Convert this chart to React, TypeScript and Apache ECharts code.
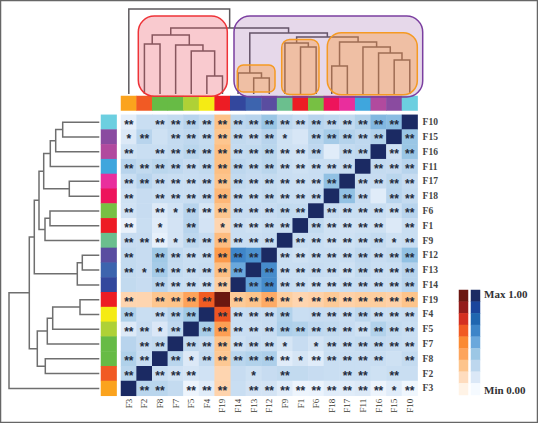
import React, { useEffect, useRef } from "react";
import * as echarts from "echarts";

const columns = ["F3","F2","F8","F7","F5","F4","F19","F14","F13","F12","F9","F1","F6","F18","F17","F11","F16","F15","F10"];
const rows = ["F10","F15","F16","F11","F17","F18","F6","F1","F9","F12","F13","F14","F19","F4","F5","F7","F8","F2","F3"];

const leafColors = ["#fba31d","#f15a24","#67bb45","#67bb45","#afd136","#f5eb14","#ed1c24","#33479d","#3d64ae","#5a4da0","#6bbf8e","#ed1c24","#77c043","#ed145b","#e92e9d","#3fa6dd","#b14a9e","#8a4ba0","#6ccfe0"];

const values: number[][] = [
  [.08,.2,.2,.22,.27,.22,.26,.25,.27,.38,.25,.21,.27,.24,.23,.3,.44,.42,1],
  [.12,.27,.18,.22,.24,.22,.24,.23,.21,.27,.18,.14,.26,.34,.28,.24,.29,1,.38],
  [.18,.2,.2,.22,.26,.23,.27,.22,.23,.26,.18,.17,.24,.1,.22,.24,1,.18,.38],
  [.27,.23,.26,.24,.21,.23,.27,.25,.22,.26,.2,.18,.2,.2,.21,1,.22,.21,.27],
  [.2,.27,.21,.2,.2,.21,.25,.23,.21,.22,.2,.19,.2,.4,1,.21,.21,.26,.21],
  [.18,.21,.2,.2,.2,.21,.3,.21,.2,.23,.2,.2,.21,1,.4,.21,.1,.27,.22],
  [.17,.21,.12,.17,.27,.15,.24,.21,.21,.21,.23,.22,1,.21,.2,.2,.2,.18,.27],
  [.06,.2,.1,.16,.27,.16,.16,.2,.18,.2,.2,1,.23,.18,.17,.18,.18,.12,.2],
  [.21,.21,.07,.16,.25,.21,.28,.2,.2,.21,1,.2,.2,.18,.18,.2,.22,.18,.2],
  [.23,.21,.36,.23,.2,.2,.42,.62,.58,1,.2,.18,.2,.2,.2,.24,.21,.23,.4],
  [.23,.21,.34,.22,.2,.21,.27,.5,1,.6,.2,.2,.21,.2,.18,.23,.2,.2,.27],
  [.23,.21,.27,.2,.2,.18,.2,1,.52,.6,.21,.2,.18,.18,.2,.21,.2,.2,.27],
  [.16,.16,.24,.25,.38,.62,1,.22,.25,.35,.2,.16,.18,.22,.18,.2,.2,.18,.25],
  [.3,.2,.21,.27,.36,1,.64,.2,.21,.21,.29,.2,.21,.21,.2,.25,.2,.2,.21],
  [.12,.21,.13,.24,1,.33,.4,.2,.2,.21,.31,.29,.24,.23,.21,.18,.29,.22,.2],
  [.27,.21,.23,1,.23,.21,.25,.18,.21,.2,.15,.21,.16,.2,.2,.22,.22,.21,.2],
  [.3,.2,1,.26,.12,.22,.23,.26,.29,.31,.1,.15,.1,.2,.2,.2,.2,.18,.22],
  [.26,1,.2,.17,.15,.17,.16,.21,.18,.21,.23,.23,.21,.2,.2,.2,.18,.2,.2],
  [1,.26,.26,.22,.04,.1,.17,.2,.16,.16,.1,.04,.05,.1,.1,.12,.04,.1,.03],
];

const stars = [
  "2022222222222222220",
  "1202222222102222202",
  "2022222222222022022",
  "2222222222222220222",
  "2222222222222202222",
  "2022222222222022022",
  "2021222222220222222",
  "2010201222202222202",
  "2221222222022222212",
  "2022222220222222222",
  "2122222202222222222",
  "0022222022222222222",
  "2022220222212222222",
  "2022202222202222222",
  "2212022222222222222",
  "0220222222101222222",
  "2202122222212222202",
  "2022200010200022020",
  "0220222022222222212",
];

const topMerges: [string,string,number][] = [
  ["F4","F19",18],["F5","m0",43],["F7","m1",49],["F2","F8",50],["m3","m2",59],
  ["F13","F12",16],["F14","m5",21],["F1","F6",47],["F9","m7",51],["F18","F17",28],
  ["F15","F10",34],["F16","m10",41],["F11","m11",47],["m9","m12",52],["m8","m13",57],
  ["m6","m14",61],["m4","m15",66],["F3","m16",85],
];
const leftMerges: [string,string,number][] = [
  ["F10","F15",36.6],["m0","F16",43.6],["m1","F11",49],["F17","F18",30],["m2","m3",55.6],
  ["F6","F1",49.3],["m5","F9",54.3],["m4","m6",60.3],["F12","F13",17],["m8","F14",22],
  ["m7","m9",65],["F19","F4",19.3],["m11","F5",46.6],["m12","F7",52],["F8","F2",54],
  ["m13","m14",62],["m10","m15",70],["m16","F3",90.3],
];

const bluePalette = ["#f5faff","#dbe8f7","#bdd7ee","#9cc7e5","#6aa8dc","#3d85c8","#1f66b0","#1a459c","#1b2a63"];
const orangePalette = ["#fff3e6","#fedcbe","#fdc48b","#fda45c","#fb8a33","#f15a22","#d42f20","#941c1a","#6b1710"];
const legendLevels = [8,7,6,5,4,3,2,1,0];
const maxLabel = "Max 1.00";
const minLabel = "Min 0.00";

const SERIF = "'Liberation Serif', serif";
const HEAT = { left: 121, top: 114.8, width: 296.6, height: 281 };

function segments(merges: [string,string,number][], leaves: string[]) {
  const pos: Record<string,[number,number]> = {};
  leaves.forEach((n, i) => { pos[n] = [i, 0]; });
  return merges.map(([a, b, h], i) => {
    const pa = pos[a], pb = pos[b];
    pos["m" + i] = [(pa[0] + pb[0]) / 2, h];
    return [pa[0], pa[1], pb[0], pb[1], h];
  });
}

function hiddenAxis(extra: any) {
  return { show: false, axisLine:{show:false}, axisTick:{show:false}, axisLabel:{show:false}, splitLine:{show:false}, ...extra };
}

export default function App() {
  const ref = useRef<HTMLDivElement>(null);
  useEffect(() => {
    const chart = echarts.init(ref.current!, undefined, { renderer: "svg" });
    const blue: any[] = [], orange: any[] = [];
    values.forEach((row, r) => row.forEach((v, c) => {
      const item = { value: [c, r, v], star: "*".repeat(+stars[r][c]) };
      (columns[c] === "F19" || rows[r] === "F19" ? orange : blue).push(item);
    }));
    const heatLabel = {
      show: true,
      formatter: (p: any) => p.data.star,
      fontFamily: "'Liberation Sans', sans-serif",
      fontWeight: "bold",
      fontSize: 12,
      color: "#232b3c",
      offset: [0, 2.5],
    };
    const topRender = (color: string) => (_: any, api: any) => {
      const [xa, ha, xb, hb, h] = [api.value(0), api.value(1), api.value(2), api.value(3), api.value(4)];
      const pts = [api.coord([xa, ha]), api.coord([xa, h]), api.coord([xb, h]), api.coord([xb, hb])];
      return { type: "polyline", shape: { points: pts }, style: { stroke: color, fill: "none", lineWidth: 1.5 } };
    };
    const leftRender = (color: string) => (_: any, api: any) => {
      const [ya, ha, yb, hb, h] = [api.value(0), api.value(1), api.value(2), api.value(3), api.value(4)];
      const pts = [api.coord([ha, ya]), api.coord([h, ya]), api.coord([h, yb]), api.coord([hb, yb])];
      return { type: "polyline", shape: { points: pts }, style: { stroke: color, fill: "none", lineWidth: 1.5 } };
    };
    const round = (x: number, y: number, w: number, h: number, r: number, stroke: string, fill: string, z: number) => ({
      type: "rect", z, shape: { x, y, width: w, height: h, r },
      style: { stroke, fill, lineWidth: 1.5 },
    });
    const option: any = {
      animation: false,
      backgroundColor: "#ffffff",
      grid: [
        { ...HEAT },
        { left: 121, top: 96, width: 296.6, height: 14.5 },
        { left: 101, top: 114.8, width: 15.6, height: 281 },
        { left: 121, top: 0, width: 296.6, height: 94 },
        { left: 0, top: 114.8, width: 99.3, height: 281 },
        { left: 459, top: 290, width: 9, height: 105 },
        { left: 471, top: 290, width: 9, height: 105 },
      ],
      xAxis: [
        { gridIndex: 0, type: "category", data: columns, position: "bottom", axisLine:{show:false}, axisTick:{show:false}, splitLine:{show:false},
          axisLabel:{ rotate: 90, interval: 0, margin: 3, fontFamily: SERIF, fontSize: 9, color: "#3a3a32" } },
        hiddenAxis({ gridIndex: 1, type: "category", data: columns }),
        hiddenAxis({ gridIndex: 2, type: "category", data: ["c"] }),
        hiddenAxis({ gridIndex: 3, type: "value", min: -0.5, max: 18.5 }),
        hiddenAxis({ gridIndex: 4, type: "value", min: 0, max: 99.3, inverse: true }),
        hiddenAxis({ gridIndex: 5, type: "category", data: ["o"] }),
        hiddenAxis({ gridIndex: 6, type: "category", data: ["b"] }),
      ],
      yAxis: [
        { gridIndex: 0, type: "category", data: rows, inverse: true, position: "right", axisLine:{show:false}, axisTick:{show:false}, splitLine:{show:false},
          axisLabel:{ interval: 0, margin: 5, fontFamily: SERIF, fontSize: 9.5, fontWeight: "bold", color: "#444" } },
        hiddenAxis({ gridIndex: 1, type: "category", data: ["c"] }),
        hiddenAxis({ gridIndex: 2, type: "category", data: rows, inverse: true }),
        hiddenAxis({ gridIndex: 3, type: "value", min: 0, max: 94 }),
        hiddenAxis({ gridIndex: 4, type: "value", min: -0.5, max: 18.5, inverse: true }),
        hiddenAxis({ gridIndex: 5, type: "category", data: legendLevels.map(String), inverse: true }),
        hiddenAxis({ gridIndex: 6, type: "category", data: legendLevels.map(String), inverse: true }),
      ],
      visualMap: [
        { type: "continuous", show: false, seriesIndex: 0, dimension: 2, min: 0, max: 1, inRange: { color: bluePalette } },
        { type: "continuous", show: false, seriesIndex: 1, dimension: 2, min: 0, max: 1, inRange: { color: orangePalette } },
        { type: "continuous", show: false, seriesIndex: [2, 3], dimension: 2, min: 0, max: 18, inRange: { color: leafColors } },
        { type: "continuous", show: false, seriesIndex: 6, dimension: 2, min: 0, max: 8, inRange: { color: orangePalette } },
        { type: "continuous", show: false, seriesIndex: 7, dimension: 2, min: 0, max: 8, inRange: { color: bluePalette } },
      ],
      series: [
        { type: "heatmap", xAxisIndex: 0, yAxisIndex: 0, data: blue, label: heatLabel, itemStyle: { borderWidth: 0 } },
        { type: "heatmap", xAxisIndex: 0, yAxisIndex: 0, data: orange, label: heatLabel, itemStyle: { borderWidth: 0 } },
        { type: "heatmap", xAxisIndex: 1, yAxisIndex: 1, data: columns.map((n, i) => [i, 0, i]) },
        { type: "heatmap", xAxisIndex: 2, yAxisIndex: 2, data: rows.map((n, i) => [0, i, columns.indexOf(n)]) },
        { type: "custom", xAxisIndex: 3, yAxisIndex: 3, coordinateSystem: "cartesian2d", clip: false, z: 3, silent: true,
          data: segments(topMerges, columns), encode: { x: [0, 2], y: [1, 3, 4] }, renderItem: topRender("#5e5a5e") },
        { type: "custom", xAxisIndex: 4, yAxisIndex: 4, coordinateSystem: "cartesian2d", clip: false, z: 3, silent: true,
          data: segments(leftMerges, rows), encode: { y: [0, 2], x: [1, 3, 4] }, renderItem: leftRender("#6f6f6f") },
        { type: "heatmap", xAxisIndex: 5, yAxisIndex: 5, data: legendLevels.map((l, i) => [0, i, l]) },
        { type: "heatmap", xAxisIndex: 6, yAxisIndex: 6, data: legendLevels.map((l, i) => [0, i, l]) },
      ],
      graphic: [
        round(138.3, 16, 89, 80.3, 16, "#ee3338", "rgba(236,80,96,0.30)", 10),
        round(234, 16, 188.7, 81, 16, "#7b3fa0", "rgba(130,60,150,0.20)", 10),
        round(237.3, 65, 37.7, 27, 6, "#f59a23", "rgba(255,150,50,0.38)", 11),
        round(281.7, 39.5, 37.3, 55, 8, "#f59a23", "rgba(255,150,50,0.38)", 11),
        round(327.3, 32.7, 90, 62, 14, "#f59a23", "rgba(255,150,50,0.38)", 11),
        { type: "text", z: 12, x: 484, y: 294, style: { text: maxLabel, fontFamily: SERIF, fontSize: 11, fontWeight: "bold", fill: "#333", verticalAlign: "middle" } },
        { type: "text", z: 12, x: 484, y: 390, style: { text: minLabel, fontFamily: SERIF, fontSize: 11, fontWeight: "bold", fill: "#333", verticalAlign: "middle" } },
        { type: "rect", z: 20, silent: true, shape: { x: 0.5, y: 0.5, width: 537, height: 422 }, style: { fill: "none", stroke: "#666", lineWidth: 1.5 } },
      ],
    };
    chart.setOption(option);
    return () => chart.dispose();
  }, []);
  return <div ref={ref} style={{ position: "fixed", left: 0, top: 0, width: 538, height: 423 }} />;
}
